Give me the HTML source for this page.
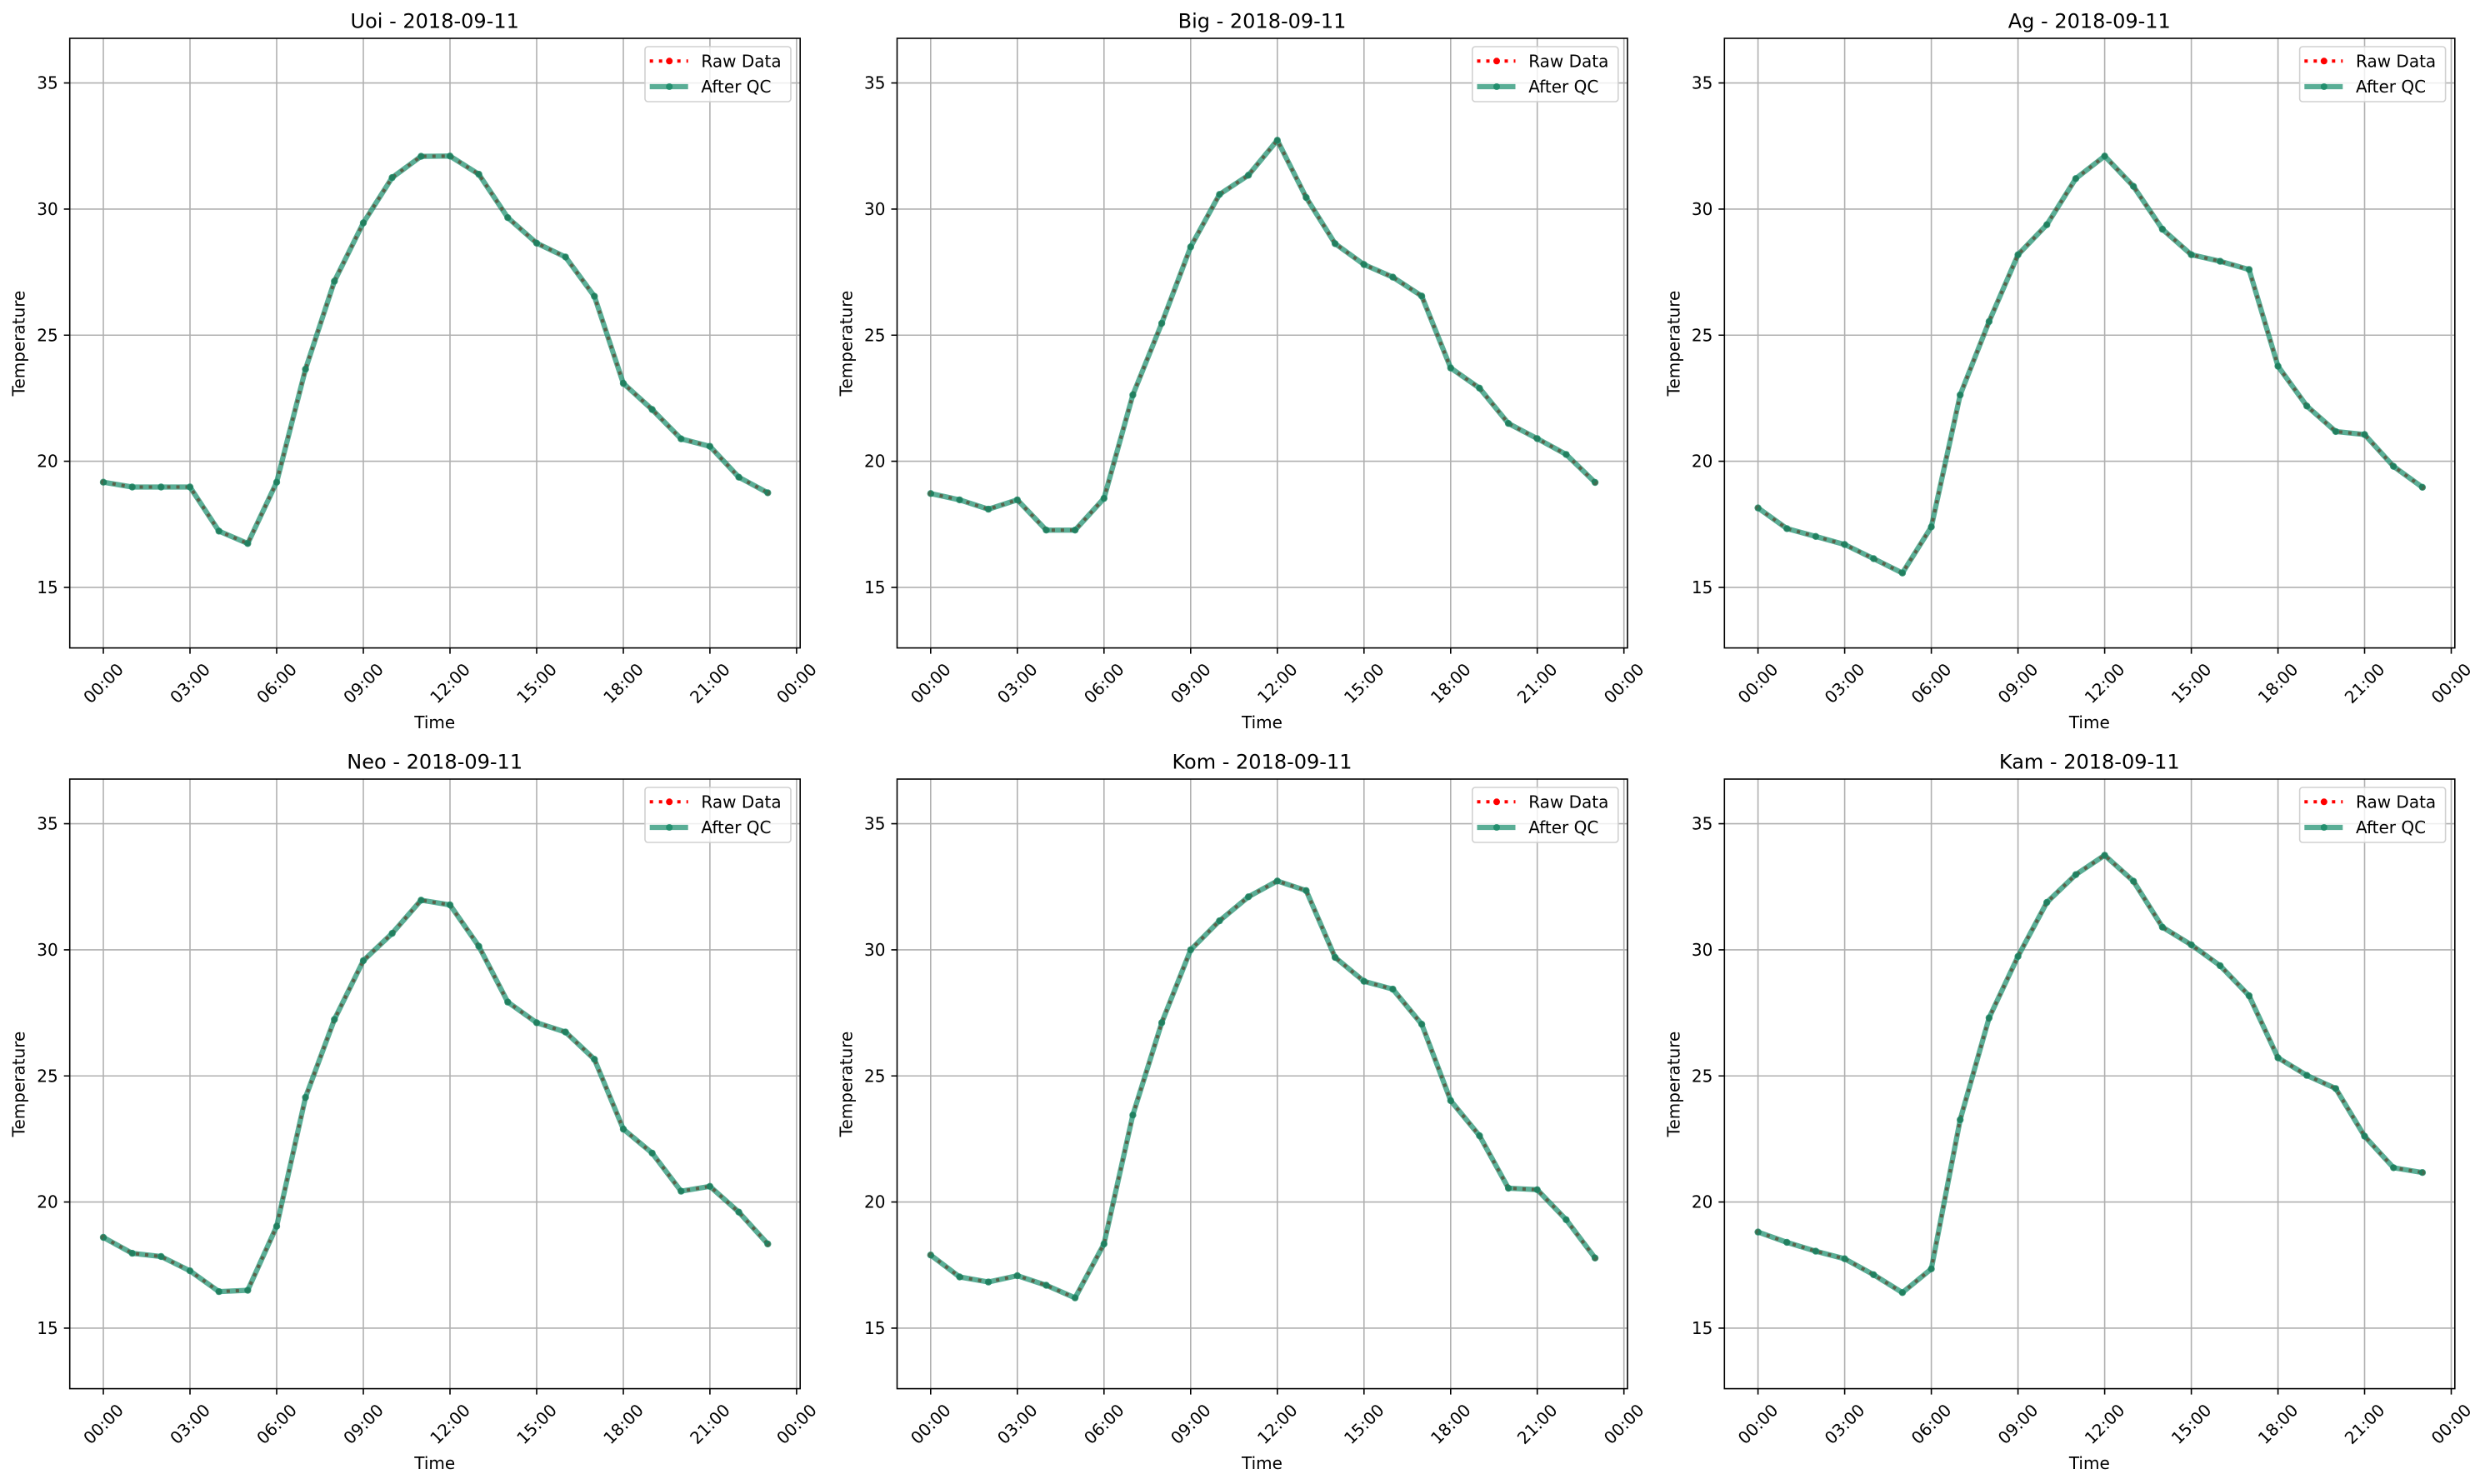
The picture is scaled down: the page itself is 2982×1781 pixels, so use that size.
<!DOCTYPE html>
<html>
<head>
<meta charset="utf-8">
<style>
html,body{margin:0;padding:0;background:#fff;}
svg{display:block;}
text{font-family:"DejaVu Sans","Liberation Sans",sans-serif;font-size:20px;fill:#000;}
.yt{text-anchor:end;dominant-baseline:central;}
.xt{text-anchor:middle;dominant-baseline:central;}
.ttl{font-size:24px;text-anchor:middle;}
.xl{text-anchor:middle;}
.yl{text-anchor:middle;dominant-baseline:central;}
.lg{dominant-baseline:central;}
.raw{fill:none;stroke:#ff0000;stroke-width:4;stroke-dasharray:4 7;marker-start:url(#mr);marker-mid:url(#mr);marker-end:url(#mr);}
.qc{fill:none;stroke:rgb(20,140,105);stroke-opacity:0.7;stroke-width:6.25;stroke-linejoin:round;marker-start:url(#mt);marker-mid:url(#mt);marker-end:url(#mt);}
</style>
</head>
<body>
<svg width="2982" height="1781" viewBox="0 0 2982 1781" xmlns="http://www.w3.org/2000/svg">
<defs>
<marker id="mr" markerUnits="userSpaceOnUse" markerWidth="12" markerHeight="12" refX="6" refY="6" overflow="visible"><circle cx="6" cy="6" r="3.3" fill="#ff0000"/></marker>
<marker id="mt" markerUnits="userSpaceOnUse" markerWidth="12" markerHeight="12" refX="6" refY="6" overflow="visible"><circle cx="6" cy="6" r="4.2" fill="rgb(20,135,100)" fill-opacity="0.8"/></marker>
<g id="grid">
<g stroke="#b0b0b0" stroke-width="1.6" fill="none">
<path d="M40.3 0V731.6M144.3 0V731.6M248.3 0V731.6M352.3 0V731.6M456.3 0V731.6M560.3 0V731.6M664.3 0V731.6M768.2 0V731.6M872.2 0V731.6"/>
<path d="M0 53.55H876.5M0 204.9H876.5M0 356.25H876.5M0 507.6H876.5M0 658.95H876.5"/>
</g>
</g>
<g id="frame">
<g stroke="#000" stroke-width="1.6" fill="none">
<rect x="0" y="0" width="876.5" height="731.6"/>
<path d="M-7 53.55H0M-7 204.9H0M-7 356.25H0M-7 507.6H0M-7 658.95H0"/>
<path d="M40.3 731.6v7M144.3 731.6v7M248.3 731.6v7M352.3 731.6v7M456.3 731.6v7M560.3 731.6v7M664.3 731.6v7M768.2 731.6v7M872.2 731.6v7"/>
</g>
<rect x="690.3" y="10" width="175" height="66" rx="3.5" fill="#fff" fill-opacity="0.8" stroke="#d0d0d0" stroke-width="1.6"/>
<line x1="696" y1="27.3" x2="742" y2="27.3" stroke="#ff0000" stroke-width="4" stroke-dasharray="4 7"/>
<circle cx="719.5" cy="27.3" r="4" fill="#ff0000"/>
<line x1="696" y1="58" x2="742" y2="58" stroke="rgb(20,140,105)" stroke-opacity="0.7" stroke-width="6.25"/>
<circle cx="719.5" cy="58" r="4" fill="rgb(20,135,100)" fill-opacity="0.8"/>
</g>
</defs>

<!-- Panel 1 -->
<g transform="translate(83.7,46)">
<use href="#grid"/>
<polyline class="raw" points="40.3,532.7 75.0,538.5 109.6,538.5 144.3,538.5 179.0,591.4 213.6,606.3 248.3,532.7 282.9,397.1 317.6,291.5 352.3,221.5 386.9,167.1 421.6,141.6 456.3,141.3 490.9,163.1 525.6,215.2 560.3,245.8 594.9,262.4 629.6,309.6 664.3,414.1 698.9,445.5 733.6,480.7 768.2,489.7 802.9,526.7 837.6,545.4"/>
<polyline class="qc" points="40.3,532.7 75.0,538.5 109.6,538.5 144.3,538.5 179.0,591.4 213.6,606.3 248.3,532.7 282.9,397.1 317.6,291.5 352.3,221.5 386.9,167.1 421.6,141.6 456.3,141.3 490.9,163.1 525.6,215.2 560.3,245.8 594.9,262.4 629.6,309.6 664.3,414.1 698.9,445.5 733.6,480.7 768.2,489.7 802.9,526.7 837.6,545.4"/>
<use href="#frame"/>
<text class="lg" x="757.7" y="27.3">Raw Data</text>
<text class="lg" x="757.7" y="58">After QC</text>
<text class="ttl" x="438" y="-12.7">Uoi - 2018-09-11</text>
<text class="yt" x="-14" y="53.55">35</text><text class="yt" x="-14" y="204.9">30</text><text class="yt" x="-14" y="356.25">25</text><text class="yt" x="-14" y="507.6">20</text><text class="yt" x="-14" y="658.95">15</text>
<text class="xt" transform="translate(40.3,774) rotate(-45)">00:00</text><text class="xt" transform="translate(144.3,774) rotate(-45)">03:00</text><text class="xt" transform="translate(248.3,774) rotate(-45)">06:00</text><text class="xt" transform="translate(352.3,774) rotate(-45)">09:00</text><text class="xt" transform="translate(456.3,774) rotate(-45)">12:00</text><text class="xt" transform="translate(560.3,774) rotate(-45)">15:00</text><text class="xt" transform="translate(664.3,774) rotate(-45)">18:00</text><text class="xt" transform="translate(768.2,774) rotate(-45)">21:00</text><text class="xt" transform="translate(872.2,774) rotate(-45)">00:00</text>
<text class="xl" x="438" y="828">Time</text>
<text class="yl" transform="translate(-61,366) rotate(-90)">Temperature</text>
</g>

<!-- Panel 2 -->
<g transform="translate(1076.5,46)">
<use href="#grid"/>
<polyline class="raw" points="40.3,546.3 75.0,553.9 109.6,565.1 144.3,553.9 179.0,590.2 213.6,590.2 248.3,552.1 282.9,428.0 317.6,342.0 352.3,250.3 386.9,187.3 421.6,164.3 456.3,122.3 490.9,191.0 525.6,246.4 560.3,271.5 594.9,286.6 629.6,309.3 664.3,395.6 698.9,419.8 733.6,462.2 768.2,480.4 802.9,499.4 837.6,533.0"/>
<polyline class="qc" points="40.3,546.3 75.0,553.9 109.6,565.1 144.3,553.9 179.0,590.2 213.6,590.2 248.3,552.1 282.9,428.0 317.6,342.0 352.3,250.3 386.9,187.3 421.6,164.3 456.3,122.3 490.9,191.0 525.6,246.4 560.3,271.5 594.9,286.6 629.6,309.3 664.3,395.6 698.9,419.8 733.6,462.2 768.2,480.4 802.9,499.4 837.6,533.0"/>
<use href="#frame"/>
<text class="lg" x="757.7" y="27.3">Raw Data</text>
<text class="lg" x="757.7" y="58">After QC</text>
<text class="ttl" x="438" y="-12.7">Big - 2018-09-11</text>
<text class="yt" x="-14" y="53.55">35</text><text class="yt" x="-14" y="204.9">30</text><text class="yt" x="-14" y="356.25">25</text><text class="yt" x="-14" y="507.6">20</text><text class="yt" x="-14" y="658.95">15</text>
<text class="xt" transform="translate(40.3,774) rotate(-45)">00:00</text><text class="xt" transform="translate(144.3,774) rotate(-45)">03:00</text><text class="xt" transform="translate(248.3,774) rotate(-45)">06:00</text><text class="xt" transform="translate(352.3,774) rotate(-45)">09:00</text><text class="xt" transform="translate(456.3,774) rotate(-45)">12:00</text><text class="xt" transform="translate(560.3,774) rotate(-45)">15:00</text><text class="xt" transform="translate(664.3,774) rotate(-45)">18:00</text><text class="xt" transform="translate(768.2,774) rotate(-45)">21:00</text><text class="xt" transform="translate(872.2,774) rotate(-45)">00:00</text>
<text class="xl" x="438" y="828">Time</text>
<text class="yl" transform="translate(-61,366) rotate(-90)">Temperature</text>
</g>

<!-- Panel 3 -->
<g transform="translate(2069.3,46)">
<use href="#grid"/>
<polyline class="raw" points="40.3,563.6 75.0,588.4 109.6,597.8 144.3,607.5 179.0,624.4 213.6,641.7 248.3,586.3 282.9,428.0 317.6,339.9 352.3,259.7 386.9,223.7 421.6,168.3 456.3,141.3 490.9,177.7 525.6,229.1 560.3,259.7 594.9,267.6 629.6,277.5 664.3,393.5 698.9,441.3 733.6,471.9 768.2,475.5 802.9,513.7 837.6,538.8"/>
<polyline class="qc" points="40.3,563.6 75.0,588.4 109.6,597.8 144.3,607.5 179.0,624.4 213.6,641.7 248.3,586.3 282.9,428.0 317.6,339.9 352.3,259.7 386.9,223.7 421.6,168.3 456.3,141.3 490.9,177.7 525.6,229.1 560.3,259.7 594.9,267.6 629.6,277.5 664.3,393.5 698.9,441.3 733.6,471.9 768.2,475.5 802.9,513.7 837.6,538.8"/>
<use href="#frame"/>
<text class="lg" x="757.7" y="27.3">Raw Data</text>
<text class="lg" x="757.7" y="58">After QC</text>
<text class="ttl" x="438" y="-12.7">Ag - 2018-09-11</text>
<text class="yt" x="-14" y="53.55">35</text><text class="yt" x="-14" y="204.9">30</text><text class="yt" x="-14" y="356.25">25</text><text class="yt" x="-14" y="507.6">20</text><text class="yt" x="-14" y="658.95">15</text>
<text class="xt" transform="translate(40.3,774) rotate(-45)">00:00</text><text class="xt" transform="translate(144.3,774) rotate(-45)">03:00</text><text class="xt" transform="translate(248.3,774) rotate(-45)">06:00</text><text class="xt" transform="translate(352.3,774) rotate(-45)">09:00</text><text class="xt" transform="translate(456.3,774) rotate(-45)">12:00</text><text class="xt" transform="translate(560.3,774) rotate(-45)">15:00</text><text class="xt" transform="translate(664.3,774) rotate(-45)">18:00</text><text class="xt" transform="translate(768.2,774) rotate(-45)">21:00</text><text class="xt" transform="translate(872.2,774) rotate(-45)">00:00</text>
<text class="xl" x="438" y="828">Time</text>
<text class="yl" transform="translate(-61,366) rotate(-90)">Temperature</text>
</g>

<!-- Panel 4 -->
<g transform="translate(83.7,935)">
<use href="#grid"/>
<polyline class="raw" points="40.3,550.0 75.0,569.1 109.6,573.0 144.3,590.2 179.0,615.1 213.6,613.5 248.3,536.7 282.9,382.0 317.6,288.5 352.3,217.9 386.9,185.2 421.6,145.3 456.3,151.0 490.9,200.7 525.6,267.6 560.3,292.4 594.9,303.6 629.6,336.3 664.3,420.1 698.9,448.9 733.6,494.6 768.2,488.8 802.9,519.7 837.6,557.9"/>
<polyline class="qc" points="40.3,550.0 75.0,569.1 109.6,573.0 144.3,590.2 179.0,615.1 213.6,613.5 248.3,536.7 282.9,382.0 317.6,288.5 352.3,217.9 386.9,185.2 421.6,145.3 456.3,151.0 490.9,200.7 525.6,267.6 560.3,292.4 594.9,303.6 629.6,336.3 664.3,420.1 698.9,448.9 733.6,494.6 768.2,488.8 802.9,519.7 837.6,557.9"/>
<use href="#frame"/>
<text class="lg" x="757.7" y="27.3">Raw Data</text>
<text class="lg" x="757.7" y="58">After QC</text>
<text class="ttl" x="438" y="-12.7">Neo - 2018-09-11</text>
<text class="yt" x="-14" y="53.55">35</text><text class="yt" x="-14" y="204.9">30</text><text class="yt" x="-14" y="356.25">25</text><text class="yt" x="-14" y="507.6">20</text><text class="yt" x="-14" y="658.95">15</text>
<text class="xt" transform="translate(40.3,774) rotate(-45)">00:00</text><text class="xt" transform="translate(144.3,774) rotate(-45)">03:00</text><text class="xt" transform="translate(248.3,774) rotate(-45)">06:00</text><text class="xt" transform="translate(352.3,774) rotate(-45)">09:00</text><text class="xt" transform="translate(456.3,774) rotate(-45)">12:00</text><text class="xt" transform="translate(560.3,774) rotate(-45)">15:00</text><text class="xt" transform="translate(664.3,774) rotate(-45)">18:00</text><text class="xt" transform="translate(768.2,774) rotate(-45)">21:00</text><text class="xt" transform="translate(872.2,774) rotate(-45)">00:00</text>
<text class="xl" x="438" y="828">Time</text>
<text class="yl" transform="translate(-61,366) rotate(-90)">Temperature</text>
</g>

<!-- Panel 5 -->
<g transform="translate(1076.5,935)">
<use href="#grid"/>
<polyline class="raw" points="40.3,571.2 75.0,597.5 109.6,603.6 144.3,596.0 179.0,607.5 213.6,622.6 248.3,557.9 282.9,403.2 317.6,292.4 352.3,204.9 386.9,170.1 421.6,141.3 456.3,122.3 490.9,133.8 525.6,214.0 560.3,242.7 594.9,252.1 629.6,294.2 664.3,385.9 698.9,428.0 733.6,491.0 768.2,492.8 802.9,528.8 837.6,574.8"/>
<polyline class="qc" points="40.3,571.2 75.0,597.5 109.6,603.6 144.3,596.0 179.0,607.5 213.6,622.6 248.3,557.9 282.9,403.2 317.6,292.4 352.3,204.9 386.9,170.1 421.6,141.3 456.3,122.3 490.9,133.8 525.6,214.0 560.3,242.7 594.9,252.1 629.6,294.2 664.3,385.9 698.9,428.0 733.6,491.0 768.2,492.8 802.9,528.8 837.6,574.8"/>
<use href="#frame"/>
<text class="lg" x="757.7" y="27.3">Raw Data</text>
<text class="lg" x="757.7" y="58">After QC</text>
<text class="ttl" x="438" y="-12.7">Kom - 2018-09-11</text>
<text class="yt" x="-14" y="53.55">35</text><text class="yt" x="-14" y="204.9">30</text><text class="yt" x="-14" y="356.25">25</text><text class="yt" x="-14" y="507.6">20</text><text class="yt" x="-14" y="658.95">15</text>
<text class="xt" transform="translate(40.3,774) rotate(-45)">00:00</text><text class="xt" transform="translate(144.3,774) rotate(-45)">03:00</text><text class="xt" transform="translate(248.3,774) rotate(-45)">06:00</text><text class="xt" transform="translate(352.3,774) rotate(-45)">09:00</text><text class="xt" transform="translate(456.3,774) rotate(-45)">12:00</text><text class="xt" transform="translate(560.3,774) rotate(-45)">15:00</text><text class="xt" transform="translate(664.3,774) rotate(-45)">18:00</text><text class="xt" transform="translate(768.2,774) rotate(-45)">21:00</text><text class="xt" transform="translate(872.2,774) rotate(-45)">00:00</text>
<text class="xl" x="438" y="828">Time</text>
<text class="yl" transform="translate(-61,366) rotate(-90)">Temperature</text>
</g>

<!-- Panel 6 -->
<g transform="translate(2069.3,935)">
<use href="#grid"/>
<polyline class="raw" points="40.3,543.6 75.0,556.0 109.6,566.6 144.3,575.7 179.0,594.8 213.6,616.3 248.3,587.8 282.9,408.9 317.6,286.6 352.3,212.8 386.9,148.0 421.6,114.7 456.3,91.4 490.9,122.6 525.6,177.7 560.3,198.9 594.9,224.0 629.6,260.0 664.3,334.5 698.9,355.6 733.6,371.4 768.2,428.6 802.9,466.4 837.6,472.2"/>
<polyline class="qc" points="40.3,543.6 75.0,556.0 109.6,566.6 144.3,575.7 179.0,594.8 213.6,616.3 248.3,587.8 282.9,408.9 317.6,286.6 352.3,212.8 386.9,148.0 421.6,114.7 456.3,91.4 490.9,122.6 525.6,177.7 560.3,198.9 594.9,224.0 629.6,260.0 664.3,334.5 698.9,355.6 733.6,371.4 768.2,428.6 802.9,466.4 837.6,472.2"/>
<use href="#frame"/>
<text class="lg" x="757.7" y="27.3">Raw Data</text>
<text class="lg" x="757.7" y="58">After QC</text>
<text class="ttl" x="438" y="-12.7">Kam - 2018-09-11</text>
<text class="yt" x="-14" y="53.55">35</text><text class="yt" x="-14" y="204.9">30</text><text class="yt" x="-14" y="356.25">25</text><text class="yt" x="-14" y="507.6">20</text><text class="yt" x="-14" y="658.95">15</text>
<text class="xt" transform="translate(40.3,774) rotate(-45)">00:00</text><text class="xt" transform="translate(144.3,774) rotate(-45)">03:00</text><text class="xt" transform="translate(248.3,774) rotate(-45)">06:00</text><text class="xt" transform="translate(352.3,774) rotate(-45)">09:00</text><text class="xt" transform="translate(456.3,774) rotate(-45)">12:00</text><text class="xt" transform="translate(560.3,774) rotate(-45)">15:00</text><text class="xt" transform="translate(664.3,774) rotate(-45)">18:00</text><text class="xt" transform="translate(768.2,774) rotate(-45)">21:00</text><text class="xt" transform="translate(872.2,774) rotate(-45)">00:00</text>
<text class="xl" x="438" y="828">Time</text>
<text class="yl" transform="translate(-61,366) rotate(-90)">Temperature</text>
</g>
</svg>
</body>
</html>
